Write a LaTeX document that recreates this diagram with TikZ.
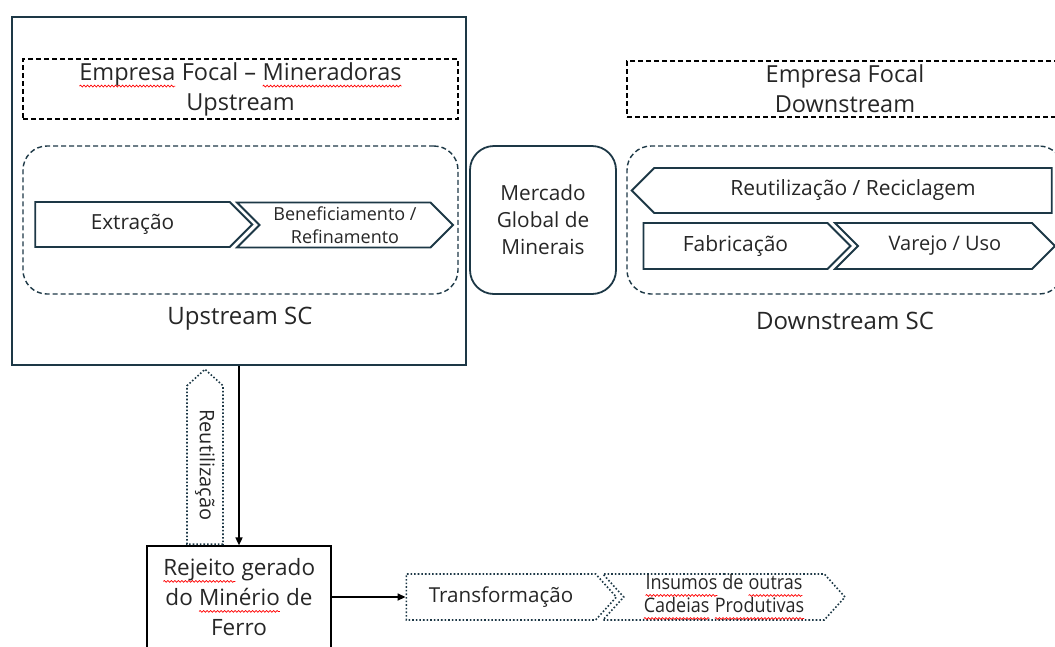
\documentclass[tikz,border=0pt]{standalone}
\usepackage{fontspec}
\setmainfont{Open Sans}
\newfontfamily\narrowfont[FakeStretch=0.9]{Open Sans}
\usetikzlibrary{shapes.symbols,arrows.meta,decorations.pathmorphing}

\definecolor{navy}{HTML}{1D3846}
\definecolor{txt}{HTML}{262626}

% red wavy spell-check line under a word
\newcommand\spell[1]{\tikz[baseline=(w.base)]{%
  \node[shape=rectangle, draw=none, fill=none, minimum width=0pt, minimum height=0pt,
    inner sep=0pt, outer sep=0pt, anchor=base, text=txt] (w) {#1};
  \draw[red, solid, line width=0.7pt, decorate,
    decoration={snake, amplitude=0.9pt, segment length=3.5pt}]
    ([yshift=-6pt]w.base west) -- ([yshift=-6pt]w.base east);}}

\tikzset{
  focal/.style={draw=black, line width=1.4pt, dash pattern=on 5pt off 3pt,
    minimum height=56pt, align=center, text=txt, font=\fontsize{23.5}{30}\selectfont},
  scbox/.style={draw=navy, line width=1.4pt, dash pattern=on 5pt off 3pt,
    rounded corners=24pt, minimum height=148pt},
  chevron/.style={signal, draw=navy, line width=1.8pt, signal pointer angle=90,
    minimum height=45pt, inner sep=0pt, align=center, text=txt},
  dotchevron/.style={chevron, line width=1.6pt, dotted, signal pointer angle=96},
  sclabel/.style={text=txt, font=\fontsize{24}{28}\selectfont}
}

\begin{document}
\begin{tikzpicture}[x=1pt, y=-1pt]
  \useasboundingbox (0,0) rectangle (1055,646);

  % Upstream side
  \node[draw=navy, line width=1.8pt, minimum width=454pt, minimum height=348pt] (upbox) at (239,191) {};
  \node[focal, minimum width=435pt] (upfocal) at (240.5,89)
    {\spell{Empresa} Focal – \spell{Mineradoras}\\Upstream};
  \node[scbox, minimum width=435pt] (upsc) at (240.5,220) {};
  \node[chevron, signal to=east, minimum width=217pt, font=\fontsize{20.8}{22}\selectfont]
    (extracao) at (132.5,224.5) {Extração};
  \node[chevron, signal to=east, signal from=west, minimum width=216pt,
    font=\fontsize{18}{23}\selectfont] (benef) at (345,225)
    {Beneficiamento /\\Refinamento};
  \node[sclabel] (uplabel) at (240,319) {Upstream SC};

  % Global market
  \node[draw=navy, line width=1.8pt, rounded corners=24pt, minimum width=146pt,
    minimum height=148pt, align=center, text=txt, font=\fontsize{20.8}{27}\selectfont]
    (mercado) at (543,220) {Mercado\\Global de\\Minerais};

  % Downstream side
  \node[focal, minimum width=436pt] (downfocal) at (845,89)
    {Empresa Focal\\Downstream};
  \node[scbox, minimum width=436pt] (downsc) at (845,220) {};
  \node[chevron, signal to=west, minimum width=420pt, font=\fontsize{21}{22}\selectfont]
    (reuso) at (853,190.5) {Reutilização / Reciclagem};
  \node[chevron, signal to=east, minimum width=207pt, minimum height=46pt,
    font=\fontsize{21}{22}\selectfont] (fabric) at (735.5,246) {Fabricação};
  \node[chevron, signal to=east, signal from=west, minimum width=220pt, minimum height=46pt,
    font=\fontsize{20}{22}\selectfont] (varejo) at (945,246) {Varejo / Uso};
  \node[sclabel] (downlabel) at (845,321) {Downstream SC};

  % Tailings
  \node[draw=black, line width=1.2pt, minimum width=184pt, minimum height=102pt,
    align=center, text=txt, font=\fontsize{22.5}{30}\selectfont]
    (rejeito) at (239,597) {\spell{Rejeito} gerado\\do \spell{Minério} de\\Ferro};
  \node[dotchevron, signal to=west, rotate=-90, minimum width=175pt, minimum height=36pt,
    signal pointer angle=95, font=\fontsize{20}{20}\selectfont]
    (reutil) at (205,465) {Reutilização};
  \node[dotchevron, signal to=east, minimum width=210pt, minimum height=46pt,
    font=\fontsize{20.6}{22}\selectfont] (transf) at (501,597) {Transformação};
  \node[dotchevron, signal to=east, signal from=west, minimum width=242pt, minimum height=46pt,
    font=\narrowfont\fontsize{20}{23}\selectfont] (insumos) at (724,597)
    {\spell{Insumos} de \spell{outras}\\\spell{Cadeias} \spell{Produtivas}};

  % Flows
  \draw[line width=1.6pt, -{Triangle[length=8pt,width=7pt]}]
    (upbox.south) -- (rejeito.north);
  \draw[line width=1.6pt, -{Triangle[length=8pt,width=7pt]}]
    (rejeito.east) -- (transf.west);
\end{tikzpicture}
\end{document}
